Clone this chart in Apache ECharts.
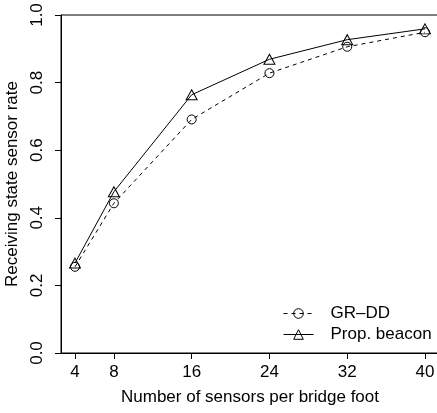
<!DOCTYPE html>
<html>
<head>
<meta charset="utf-8">
<script src="https://cdn.jsdelivr.net/npm/echarts@6/dist/echarts.min.js"></script>
<style>
  html, body { margin: 0; padding: 0; background: #fff; }
  #chart { width: 437px; height: 413px; }
</style>
</head>
<body>
<div id="chart"></div>
<script>
// sensors per bridge foot
var sensorCounts = [4, 8, 16, 24, 32, 40];
// receiving state sensor rate
var grddRate = [0.255, 0.443, 0.691, 0.828, 0.906, 0.949];
var beaconRate = [0.266, 0.477, 0.764, 0.869, 0.927, 0.959];
var yTicks = [0, 0.2, 0.4, 0.6, 0.8, 1.0];

var font = 'Liberation Sans, Arial, Helvetica, sans-serif';

function pairs(xs, ys) {
  return xs.map(function (x, i) { return [x, ys[i]]; });
}

var chart = echarts.init(document.getElementById('chart'));
chart.setOption({
  animation: false,
  backgroundColor: '#fff',
  grid: {
    left: 61, top: 15, right: -2, bottom: 60,
    containLabel: false, outerBoundsMode: 'none',
    show: true, borderColor: '#000', borderWidth: 1
  },
  legend: {
    orient: 'vertical',
    left: 283, top: 305, padding: 0,
    itemWidth: 30, itemHeight: 12, itemGap: 4,
    lineStyle: { width: 1 },
    itemStyle: { borderWidth: 1 },
    textStyle: { fontFamily: font, fontSize: 17, color: '#000', lineHeight: 17, padding: [0, 0, 0, 12] },
    data: ['GR\u2013DD', 'Prop. beacon']
  },
  xAxis: {
    type: 'value',
    min: 2.56, max: 41.44,
    name: 'Number of sensors per bridge foot',
    nameLocation: 'middle', nameGap: 36,
    nameTextStyle: { fontFamily: font, fontSize: 17, color: '#000' },
    axisLine: { show: true, lineStyle: { color: '#000', width: 1 } },
    axisTick: { show: true, length: 6, inside: false, lineStyle: { color: '#000' }, customValues: sensorCounts },
    axisLabel: { customValues: sensorCounts, margin: 11, fontFamily: font, fontSize: 17, color: '#000',
      formatter: function (v) { return String(Math.round(v)); } },
    splitLine: { show: false }
  },
  yAxis: {
    type: 'value',
    min: 0, max: 1, interval: 0.2,
    name: 'Receiving state sensor rate',
    nameLocation: 'middle', nameGap: 40, nameRotate: 90,
    nameTextStyle: { fontFamily: font, fontSize: 17, color: '#000' },
    axisLine: { show: true, lineStyle: { color: '#000', width: 1 } },
    axisTick: { show: true, length: 6, lineStyle: { color: '#000' }, customValues: yTicks },
    axisLabel: { customValues: yTicks, rotate: 90, margin: 15, fontFamily: font, fontSize: 17, color: '#000',
      formatter: function (v) { return v.toFixed(1); } },
    splitLine: { show: false }
  },
  series: [
    {
      name: 'GR\u2013DD',
      type: 'line',
      data: pairs(sensorCounts, grddRate),
      symbol: 'circle', symbolSize: 9,
      showAllSymbol: true,
      lineStyle: { color: '#000', width: 1, type: [4, 4] },
      itemStyle: { color: 'rgba(255,255,255,0)', borderColor: '#000', borderWidth: 1 }
    },
    {
      name: 'Prop. beacon',
      type: 'line',
      data: pairs(sensorCounts, beaconRate),
      symbol: 'triangle', symbolSize: [11, 10],
      showAllSymbol: true,
      lineStyle: { color: '#000', width: 1 },
      itemStyle: { color: 'rgba(255,255,255,0)', borderColor: '#000', borderWidth: 1 }
    }
  ]
});
</script>
</body>
</html>
